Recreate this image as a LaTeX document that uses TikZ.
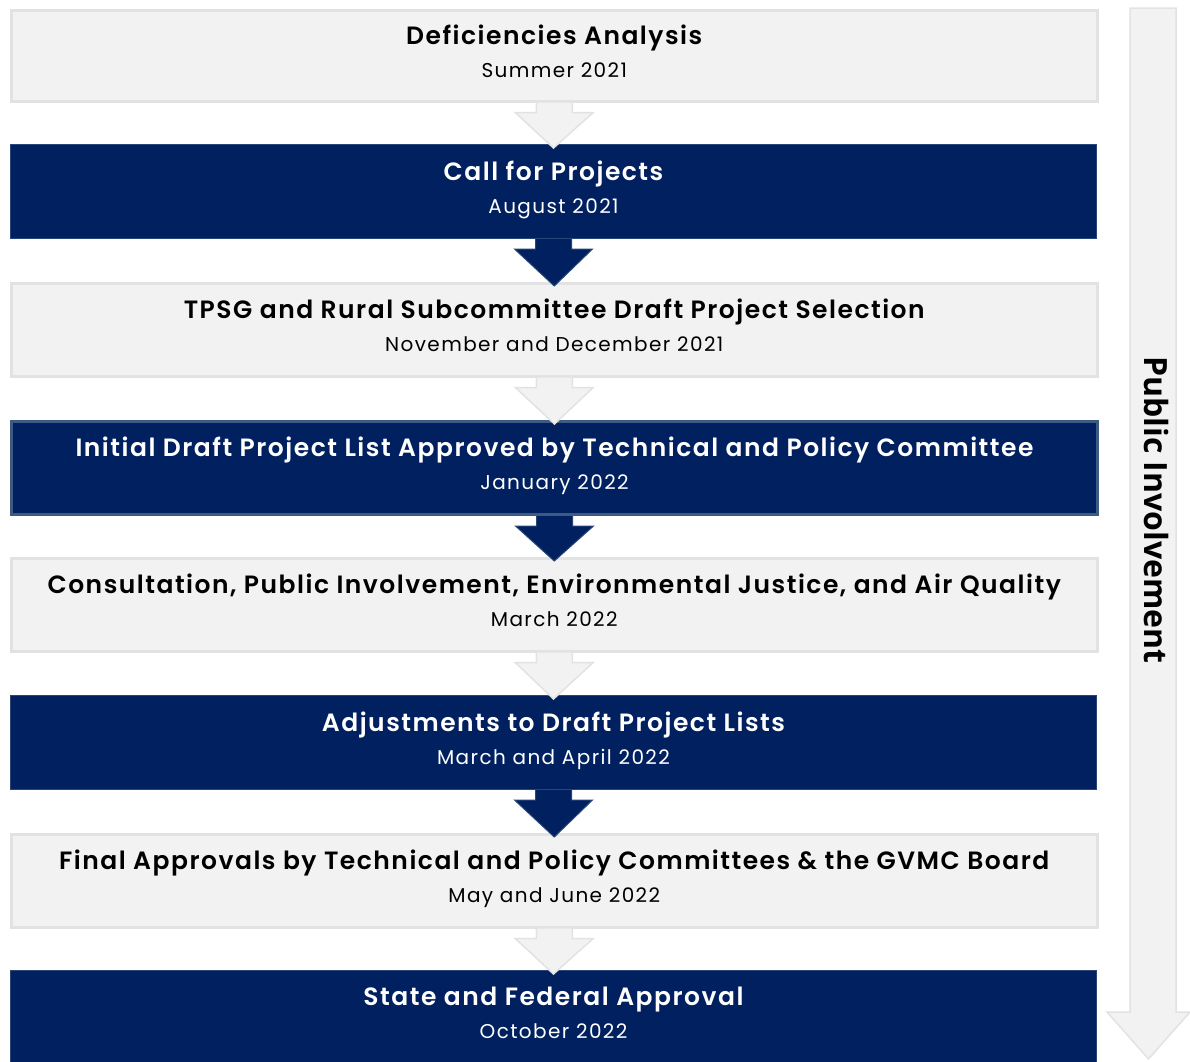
\documentclass[tikz,border=0pt]{standalone}
\usepackage{fontspec}
\setmainfont{Poppins}[BoldFont={Poppins SemiBold}]
\newfontfamily\titlefam{Poppins SemiBold}[LetterSpace=6]
\newfontfamily\datefam{Poppins}[LetterSpace=7]
\newfontfamily\sidefam{Open Sans}[BoldFont={* Bold}]
\usetikzlibrary{calc}
\definecolor{navy}{RGB}{0,32,96}
\definecolor{navyedge}{RGB}{40,70,120}
\definecolor{navyedgeb}{RGB}{60,90,130}
\definecolor{lightfill}{RGB}{242,242,242}
\definecolor{lightedge}{RGB}{226,226,226}
\tikzset{
  stagebox/.style={minimum width=1086pt, anchor=north west, inner sep=0pt, line width=2.5pt},
  lightbox/.style={stagebox, fill=lightfill, draw=lightedge},
  darkbox/.style={stagebox, fill=navy, draw=navyedge, line width=1pt},
  titletext/.style={anchor=base, inner sep=0pt, font=\titlefam\fontsize{25}{29}\selectfont},
  datetext/.style={anchor=base, inner sep=0pt, font=\datefam\fontsize{20}{23}\selectfont},
  lightarrow/.style={fill=lightfill, draw=lightedge, line width=1.5pt, line join=miter},
  darkarrow/.style={fill=navy, draw=navyedge, line width=1pt, line join=miter},
  sidearrow/.style={fill=lightfill, draw=lightedge, line width=1.5pt, line join=miter},
}
% #1 name, #2 style, #3 top, #4 bottom, #5 text colour, #6 title, #7 date
\newcommand{\stagenode}[7]{%
  \node[#2, minimum height={#4-#3}] (#1) at (10,#3) {};
  \node[titletext, text=#5] (#1t) at ($(#1.center)+(0,-11.5)$) {#6};
  \node[datetext, text=#5] (#1d) at ($(#1.center)+(0,21.5)$) {#7};
}
\newcommand{\blockarrow}[3]{% style, from node, to node
  \path[#1] ($(#2.south)+(-18pt,0)$) -- ($(#2.south)+(-18pt,-10pt)$) -- ($(#2.south)+(-39pt,-10pt)$)
    -- ($(#3.north)+(0,-4pt)$) -- ($(#2.south)+(39pt,-10pt)$) -- ($(#2.south)+(18pt,-10pt)$)
    -- ($(#2.south)+(18pt,0)$);
}
\begin{document}
\begin{tikzpicture}[x=1pt,y=-1pt]
\useasboundingbox (0,0) rectangle (1190,1061);
\stagenode{b1}{lightbox}{9}{100}{black}{Deficiencies Analysis}{Summer 2021}
\stagenode{b2}{darkbox}{144}{238}{white}{Call for Projects}{August 2021}
\stagenode{b3}{lightbox}{282}{375}{black}{TPSG and Rural Subcommittee Draft Project Selection}{November and December 2021}
\stagenode{b4}{darkbox,draw=navyedgeb,line width=3pt}{420}{513}{white}{Initial Draft Project List Approved by Technical and Policy Committee}{January 2022}
\stagenode{b5}{lightbox}{557}{650}{black}{Consultation, Public Involvement, Environmental Justice, and Air Quality}{March 2022}
\stagenode{b6}{darkbox}{695}{789}{white}{Adjustments to Draft Project Lists}{March and April 2022}
\stagenode{b7}{lightbox}{833}{926}{black}{Final Approvals by Technical and Policy Committees \& the GVMC Board}{May and June 2022}
\stagenode{b8}{darkbox}{970}{1063}{white}{State and Federal Approval}{October 2022}
\blockarrow{lightarrow}{b1}{b2}
\blockarrow{darkarrow}{b2}{b3}
\blockarrow{lightarrow}{b3}{b4}
\blockarrow{darkarrow}{b4}{b5}
\blockarrow{lightarrow}{b5}{b6}
\blockarrow{darkarrow}{b6}{b7}
\blockarrow{lightarrow}{b7}{b8}
% side arrow
\coordinate (st) at (1153,8);
\coordinate (sp) at (1148.5,1059);
\path[sidearrow] ($(st)+(-23,0)$) -- ($(st)+(23,0)$) -- (1176,1012) -- (1190,1012) -- (sp) -- (1107,1012) -- (1130,1012) -- cycle;
\node[rotate=-90, font=\sidefam\bfseries\fontsize{32}{36}\selectfont] (pi) at (1156,510) {Public Involvement};
\end{tikzpicture}
\end{document}
